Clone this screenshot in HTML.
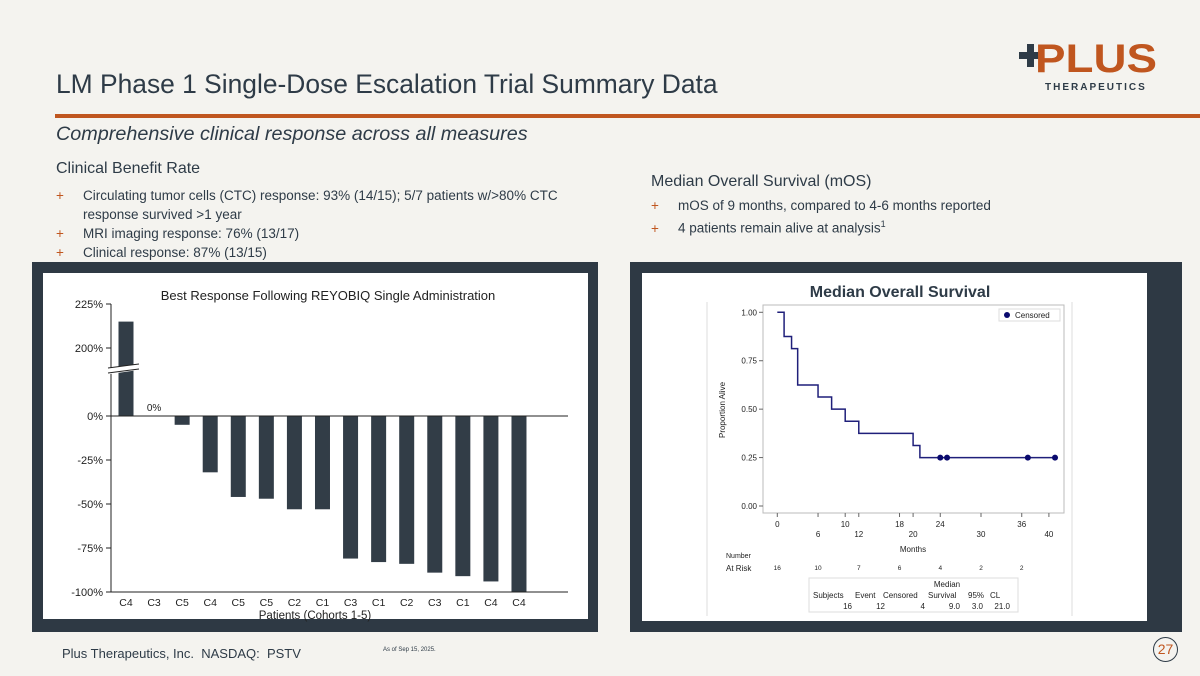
<!DOCTYPE html>
<html><head><meta charset="utf-8"><style>
body{margin:0;width:1200px;height:676px;background:#f4f3ef;font-family:"Liberation Sans",sans-serif;position:relative;overflow:hidden;color:#2e3b47}
.a{position:absolute;white-space:nowrap}
.b{font-size:13.5px;color:#2e3b47}
.b span{color:#c0561f;display:inline-block;width:27px}
</style></head><body>
<div class="a" style="left:56px;top:69px;font-size:26.4px">LM Phase 1 Single-Dose Escalation Trial Summary Data</div>
<div class="a" style="left:55px;top:114px;width:1145px;height:4px;background:#c0561f"></div>
<div class="a" style="left:1015px;top:34px;width:150px;height:62px">
<svg width="150" height="62"><rect x="4" y="18" width="22" height="7" fill="#2e3b47"/><rect x="12" y="10" width="7" height="23" fill="#2e3b47"/>
<text x="20" y="38" font-size="40" font-weight="bold" fill="#c0561f" font-family="Liberation Sans" textLength="122" lengthAdjust="spacingAndGlyphs">PLUS</text>
<text x="30" y="56" font-size="10" font-weight="bold" letter-spacing="2" fill="#2e3b47">THERAPEUTICS</text></svg></div>
<div class="a" style="left:56px;top:123px;font-size:19.8px;font-style:italic">Comprehensive clinical response across all measures</div>
<div class="a" style="left:56px;top:160px;font-size:16px">Clinical Benefit Rate</div>
<div class="a b" style="left:56px;top:186px;line-height:19px">
<div><span>+</span>Circulating tumor cells (CTC) response: 93% (14/15); 5/7 patients w/&gt;80% CTC</div>
<div><span></span>response survived &gt;1 year</div>
<div><span>+</span>MRI imaging response: 76% (13/17)</div>
<div><span>+</span>Clinical response: 87% (13/15)</div></div>
<div class="a" style="left:651px;top:173px;font-size:16px">Median Overall Survival (mOS)</div>
<div class="a b" style="left:651px;top:196px;line-height:19px">
<div><span>+</span>mOS of 9 months, compared to 4-6 months reported</div>
<div><span>+</span>4 patients remain alive at analysis<sup style="font-size:9px">1</sup></div></div>

<div class="a" style="left:32px;top:262px;width:566px;height:370px;background:#2e3944"></div>
<div class="a" style="left:43px;top:273px;width:545px;height:346px;background:#fff"></div>
<div class="a" style="left:630px;top:262px;width:552px;height:370px;background:#2e3944"></div>
<div class="a" style="left:642px;top:273px;width:505px;height:348px;background:#fff"></div>

<svg class="a" style="left:0;top:0" width="1200" height="676" font-family="Liberation Sans">
<g id="bar"></g><g id="km"></g></svg>

<div class="a" style="left:62px;top:646px;font-size:13px">Plus Therapeutics, Inc.&nbsp; NASDAQ:&nbsp; PSTV</div>
<div class="a" style="left:383px;top:647px;font-size:6px">As of Sep 15, 2025.</div>
<div class="a" style="left:1153px;top:637px;width:23px;height:23px;border:1px solid #2e3b47;border-radius:50%;text-align:center;line-height:23px;font-size:14px;color:#c0561f">27</div>

<script>
const cats=["C4","C3","C5","C4","C5","C5","C2","C1","C3","C1","C2","C3","C1","C4","C4"];
const vals=[215,0,-5,-32,-46,-47,-53,-53,-81,-83,-84,-89,-91,-94,-100];
const yTicks=[225,200,0,-25,-50,-75,-100];
const stepT=[0,1,2.1,3,6,8,10,12,20,21,41];
const stepS=[1,0.875,0.8125,0.625,0.5625,0.5,0.4375,0.375,0.3125,0.25,0.25];
const censT=[24,25,36.9,40.9];
const censS=[0.25,0.25,0.25,0.25];
const xTicks=[0,6,10,12,18,20,24,30,36,40];
const kmY=[0,0.25,0.5,0.75,1];
const riskT=[0,6,12,18,24,30,36];
const riskN=[16,10,7,6,4,2,2];
const NS="http://www.w3.org/2000/svg";
function mk(p,t,a,txt){const e=document.createElementNS(NS,t);for(const k in a)e.setAttribute(k,a[k]);if(txt!=null)e.textContent=txt;p.appendChild(e);return e;}
const bar=document.getElementById('bar');
function by(v){return v>100?348-(v-200)*1.76:416-v*1.76;}
function bx(i){return 126+i*28.07;}
mk(bar,'text',{x:328,y:300,'font-size':13,'text-anchor':'middle',fill:'#222'},'Best Response Following REYOBIQ Single Administration');
yTicks.forEach(t=>{const y=by(t);mk(bar,'line',{x1:106,x2:111,y1:y,y2:y,stroke:'#222'});
const l=mk(bar,'text',{x:103,y:y+4,'font-size':11,'text-anchor':'end',fill:'#222'},t+'%');

});
vals.forEach((v,i)=>{const y0=by(0),y1=by(v);const r=mk(bar,'rect',{x:bx(i)-7.5,y:Math.min(y0,y1),width:15,height:Math.abs(y1-y0),fill:'#323d47'});


const c=mk(bar,'text',{x:bx(i),y:606,'font-size':10.5,'text-anchor':'middle',fill:'#222'},cats[i]);


if(v===0){const z=mk(bar,'text',{x:bx(i),y:411,'font-size':10,'text-anchor':'middle',fill:'#222'},'0%');

}});
mk(bar,'line',{x1:111,x2:111,y1:304,y2:592,stroke:'#222'});
mk(bar,'line',{x1:111,x2:568,y1:416,y2:416,stroke:'#222'});
mk(bar,'line',{x1:111,x2:568,y1:592,y2:592,stroke:'#222'});
mk(bar,'rect',{x:108,y:366,width:32,height:6,fill:'#fff',transform:'rotate(-8 124 369)'});
mk(bar,'line',{x1:108,y1:368,x2:139,y2:364,stroke:'#222'});mk(bar,'line',{x1:108,y1:373,x2:139,y2:369,stroke:'#222'});
mk(bar,'text',{x:315,y:619,'font-size':11.5,'text-anchor':'middle',fill:'#222'},'Patients (Cohorts 1-5)');

const km=document.getElementById('km');
function kx(t){return 777.3+t*6.79;}
function ky(s){return 506-s*193.7;}
mk(km,'text',{x:900,y:297,'font-size':16,'font-weight':'bold','text-anchor':'middle',fill:'#2e3b47'},'Median Overall Survival');
mk(km,'line',{x1:707,x2:707,y1:302,y2:616,stroke:'#ddd'});mk(km,'line',{x1:1072,x2:1072,y1:302,y2:616,stroke:'#ddd'});
mk(km,'rect',{x:763,y:305,width:301,height:208,fill:'none',stroke:'#bbb'});
kmY.forEach(s=>{const y=ky(s);mk(km,'line',{x1:759,x2:763,y1:y,y2:y,stroke:'#666'});const l=mk(km,'text',{x:757,y:y+3,'font-size':8,'text-anchor':'end',fill:'#222'},s.toFixed(2));

});
const topRow=[0,10,18,24,36];
xTicks.forEach(t=>{const x=kx(t);mk(km,'line',{x1:x,x2:x,y1:513,y2:517,stroke:'#666'});const l=mk(km,'text',{x:x,y:topRow.includes(t)?527:537,'font-size':8,'text-anchor':'middle',fill:'#222'},t);

});
mk(km,'text',{x:913,y:552,'font-size':8,'text-anchor':'middle',fill:'#222'},'Months');
mk(km,'text',{x:725,y:410,'font-size':8,'text-anchor':'middle',fill:'#222',transform:'rotate(-90 725 410)'},'Proportion Alive');
let d='M'+kx(stepT[0])+' '+ky(stepS[0]);
for(let i=1;i<stepT.length;i++){d+=' H'+kx(stepT[i])+' V'+ky(stepS[i]);}
const p=mk(km,'path',{d:d,fill:'none',stroke:'#1f1f7a','stroke-width':1.5});


censT.forEach((t,i)=>{const c=mk(km,'circle',{cx:kx(t),cy:ky(censS[i]),r:3,fill:'#0a0a6e'});

});
mk(km,'rect',{x:999,y:309,width:61,height:12,fill:'#fff',stroke:'#ddd'});
mk(km,'circle',{cx:1007,cy:315,r:3,fill:'#0a0a6e'});
mk(km,'text',{x:1015,y:318,'font-size':8,fill:'#222'},'Censored');
mk(km,'text',{x:726,y:558,'font-size':7,fill:'#222'},'Number');
mk(km,'text',{x:726,y:571,'font-size':8,fill:'#222'},'At Risk');
riskT.forEach((t,i)=>{const l=mk(km,'text',{x:kx(t),y:570,'font-size':6.5,'text-anchor':'middle',fill:'#222'},riskN[i]);

});
mk(km,'rect',{x:809,y:578,width:209,height:34,fill:'#fff',stroke:'#ddd'});
mk(km,'text',{x:947,y:587,'font-size':8,'text-anchor':'middle',fill:'#222'},'Median');
const hdr=[['Subjects',813],['Event',855],['Censored',883],['Survival',928],['95%',968],['CL',990]];
hdr.forEach(h=>mk(km,'text',{x:h[1],y:598,'font-size':8,fill:'#222'},h[0]));
const row=[['16',852],['12',885],['4',925],['9.0',960],['3.0',983],['21.0',1010]];
row.forEach(h=>mk(km,'text',{x:h[1],y:609,'font-size':8,fill:'#222','text-anchor':'end'},h[0]));
</script>
</body></html>
